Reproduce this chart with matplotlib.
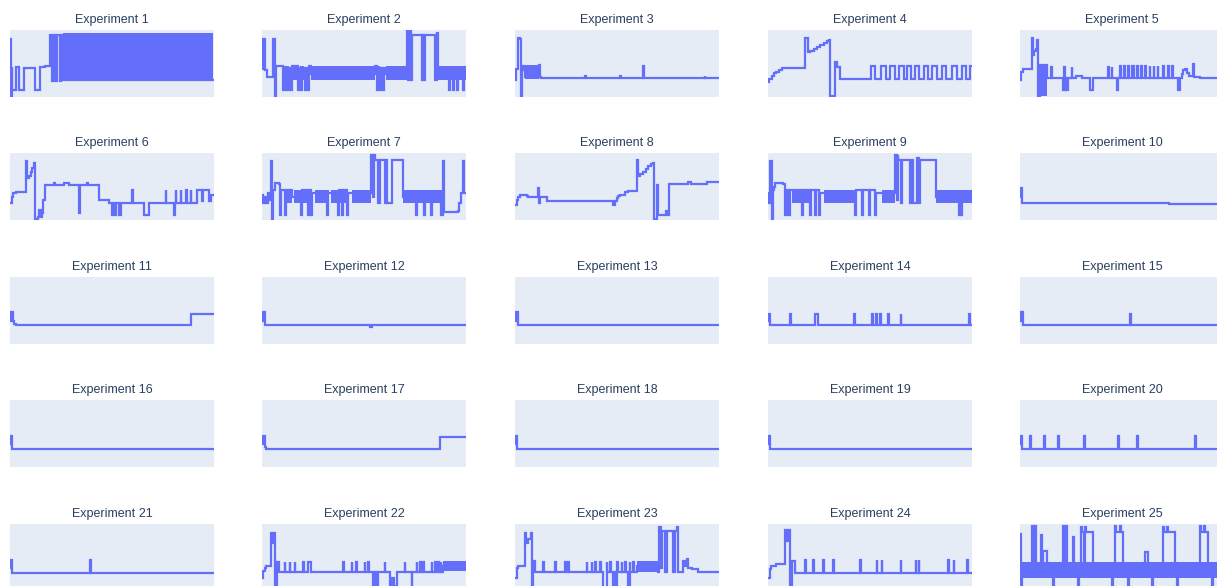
import matplotlib
matplotlib.use("Agg")
import matplotlib.pyplot as plt

# each experiment: (time %, value %) step points; bands = dense oscillation (t0, t1, low, high)
exp1 = [(0,87),(0.4,0),(0.9,45),(1.0,10),(2.8,45),(4.6,10),(6.9,44),(11.5,43),(12.3,10),(14.8,45),(17.2,47),
        (19.7,92),(20.5,24),(21.0,92),(22.3,24),(22.9,92),(24.3,24),(25.0,92),(26.0,26),(100,26)]
band1 = [(26.0,99.6,27,96)]

exp2 = [(0,42),(0.6,87),(1.5,40),(2.3,30),(5.2,87),(6.4,0),(7.0,47),(10.3,10),(10.8,44),(11.6,10),(12.1,44),
        (12.9,10),(13.4,44),(14.2,10),(14.7,46),(17.5,10),(18.0,44),(19.2,10),(19.7,44),(21.0,10),(21.5,44),
        (22.3,10),(22.8,46),(24.2,35),(55.3,46),(56.3,10),(56.8,44),(57.8,10),(58.3,44),(59.5,10),(60.0,44),
        (61.0,35),(70.9,98),(71.4,25),(72.4,98),(72.9,25),(73.3,92),(78.2,25),(78.7,92),(79.4,25),(79.9,92),
        (84.8,25),(86.0,95),(86.5,35),(91.5,10),(92.0,44),(93.5,10),(94.0,44),(95.8,10),(96.3,44),(98.3,10),
        (98.8,44),(100,44)]
band2 = [(11.0,13.0,25,47),(14.7,17.5,25,47),(18.5,20.5,25,47),(24.2,55.3,25,47),(56.8,58.0,25,47),
         (61.0,70.9,25,47),(86.5,100,25,47)]

exp3 = [(0,25),(0.3,42),(1.3,88),(2.6,86),(2.9,0),(3.4,47),(4.2,40),(4.9,30),(11.8,48),(12.4,30),(12.9,29),
        (34.3,31),(34.6,29),(51.5,31),(51.8,29),(62.9,46),(63.4,29),(93.0,31),(93.3,29),(100,29)]
band3 = [(4.9,11.8,27,48)]

exp4 = [(0,22),(0.7,27),(2.0,32),(2.8,36),(3.9,38),(5.2,40),(6.9,43),(18.3,88),(19.6,67),(20.8,69),(22.4,72),
        (24.0,74),(25.7,78),(27.3,81),(28.9,84),(30.1,85),(30.6,1.5),(32.7,52),(33.8,45),(35.5,27),(50.7,47),
        (52.6,27),(55.6,47),(57.8,27),(60.0,47),(62.1,27),(64.1,47),(66.5,27),(68.1,47),(70.3,27),(72.2,47),
        (74.2,27),(76.3,47),(78.4,27),(80.4,47),(82.8,27),(85.3,47),(87.4,27),(90.2,47),(92.6,27),(95.1,47),
        (97.2,27),(99.2,47),(100,47)]
band4 = []

exp5 = [(0,25),(0.5,38),(1.6,42),(5.7,88),(6.2,62),(6.9,68),(7.7,72),(8.5,85),(9.0,0),(9.8,48),(13.1,29),
        (15.3,45),(15.6,29),(21.2,10),(21.7,45),(22.0,10),(22.7,29),(23.2,10),(23.7,29),(25.3,45),(25.6,29),
        (27.5,32),(30.5,29),(34.3,10),(35.9,29),(43.3,45),(43.6,29),(44.9,45),(45.2,29),(47.4,10),(48.2,29),
        (49.0,47),(49.3,29),(51.0,47),(51.3,29),(53.0,47),(53.3,29),(55.0,47),(56.0,29),(57.5,47),(57.8,29),
        (59.5,47),(59.8,29),(61.5,47),(61.8,29),(63.5,47),(63.8,29),(65.5,47),(65.8,29),(67.5,47),(67.8,29),
        (70.3,47),(70.6,29),(72.5,47),(72.8,29),(74.5,47),(74.8,29),(77.6,10),(78.4,29),(79.2,35),(80.1,40),
        (81.0,42),(82.0,36),(83.0,32),(85.0,50),(85.3,30),(88.0,28),(100,28)]
band5 = [(9.8,13.1,2,50)]

exp6 = [(0,25),(0.8,35),(1.6,40),(2.8,42),(7.7,88),(8.5,63),(9.3,66),(10.1,72),(11.0,77),(11.9,85),(12.4,1),
        (13.9,5),(14.4,15),(15.0,5),(15.7,10),(16.3,30),(17.0,52),(21.6,55),(22.0,52),(26.5,55),(28.9,52),
        (33.8,10),(34.3,52),(37.9,55),(38.4,52),(43.6,30),(48.5,26),(50.2,8),(51.0,26),(51.4,8),(51.8,26),
        (53.4,8),(54.2,26),(60.0,45),(60.3,26),(65.7,8),(68.1,26),(76.3,45),(76.6,26),(80.4,8),(80.9,26),
        (81.2,45),(81.5,26),(83.7,45),(84.0,26),(86.3,45),(86.6,26),(88.6,45),(88.9,26),(91.8,45),(94.0,28),
        (94.5,45),(96.7,45),(97.5,28),(98.3,37),(100,37)]
band6 = []

exp7 = [(0,37),(0.6,25),(1.2,35),(2.0,25),(2.8,40),(3.6,30),(4.4,88),(5.0,0),(5.6,45),(6.2,55),(8.5,53),
        (9.0,8),(9.5,45),(11.5,8),(12.0,45),(14.5,35),(19.2,8),(19.7,45),(22.5,8),(23.0,45),(24.0,8),(24.5,40),
        (31.8,8),(32.3,40),(37.4,8),(37.9,45),(39.0,8),(39.5,45),(41.5,8),(42.0,40),(53.6,97),(54.2,35),
        (55.0,97),(55.6,90),(56.9,25),(57.7,90),(60.2,25),(60.6,90),(61.5,25),(63.8,90),(69.2,35),(75.4,8),
        (75.9,40),(79.5,8),(80.0,40),(83.0,8),(83.5,40),(87.9,8),(88.5,88),(89.3,12),(96.2,14),(96.8,25),
        (97.5,40),(98.5,88),(99.2,40),(100,40)]
band7 = [(12.0,14.5,25,45),(15.5,23.5,25,45),(26,33,25,45),(34,41,25,45),(44,53.5,25,45),(69.2,88,25,45)]

exp8 = [(0,22),(0.8,30),(1.6,35),(2.5,37),(5.7,36),(6.5,35),(11.1,48),(11.8,26),(12.3,35),(15.5,29),(16.3,28),
        (48.2,22),(49.0,28),(49.8,33),(50.5,36),(51.5,38),(53.9,42),(55.2,44),(59.6,90),(60.5,65),(61.5,68),
        (62.8,72),(64.0,76),(65.3,80),(66.5,83),(67.6,85),(68.0,1),(69.5,52),(70.3,7),(74.2,14),(74.8,7),
        (75.5,53),(85.0,56),(86.3,53),(94.0,56),(97.3,57),(100,57)]
band8 = []

exp9 = [(0,40),(0.5,25),(1.1,88),(1.8,0),(2.5,45),(3.0,50),(3.5,55),(7.5,53),(8.2,45),(8.5,8),(9.3,45),
        (10.5,8),(11.0,45),(16.5,8),(17.0,45),(20.5,8),(21.0,45),(23.0,8),(23.5,45),(24.8,8),(25.3,40),
        (42.8,8),(43.3,45),(46.1,8),(46.6,45),(49.3,8),(49.8,45),(52.6,8),(53.1,40),(62.4,97),(63.0,30),
        (63.5,97),(63.9,90),(65.0,25),(65.5,90),(69.8,25),(70.4,90),(71.2,25),(73.0,92),(74.0,25),(74.5,90),
        (82.0,90),(82.5,35),(93.5,8),(94.0,40),(94.5,8),(95.0,40),(100,40)]
band9 = [(12,16.5,25,45),(17,20.5,25,45),(27.5,42.8,25,45),(56,62.4,25,45),(82.5,100,25,45)]

exp10 = [(0,35),(0.4,48),(1.0,25),(73,24),(100,24)]
band10 = []
exp11 = [(0,35),(0.6,48),(1.5,35),(2.2,30),(3.0,28),(88.7,45),(100,45)]
band11 = []
exp12 = [(0,35),(0.6,48),(1.3,28),(53,26),(53.8,28),(100,28)]
band12 = []
exp13 = [(0,35),(0.6,48),(1.3,28),(100,28)]
band13 = []
exp14 = [(0,35),(0.6,45),(1.2,28),(10.8,45),(11.1,28),(23.2,45),(24.6,28),(42.4,45),(42.7,28),(51.2,45),
         (51.5,28),(53.0,45),(53.3,28),(55.0,45),(55.3,28),(59.0,45),(59.3,28),(65.0,45),(65.3,28),(98.5,45),
         (98.8,28),(100,28)]
band14 = []
exp15 = [(0,35),(0.6,48),(1.3,28),(53.9,45),(54.2,28),(100,28)]
band15 = []
exp16 = [(0,35),(0.6,46),(1.2,27),(100,27)]
band16 = []
exp17 = [(0,35),(0.6,46),(1.5,30),(2.2,27),(87.3,45),(100,45)]
band17 = []
exp18 = [(0,35),(0.6,46),(1.2,27),(100,27)]
band18 = []
exp19 = [(0,35),(0.6,46),(1.2,27),(100,27)]
band19 = []
exp20 = [(0,35),(0.5,46),(1.0,27),(4.9,46),(5.2,27),(11.8,46),(12.1,27),(18.6,46),(18.9,27),(31.4,46),
         (31.7,27),(48.0,46),(48.3,27),(57.4,46),(57.7,27),(85.8,46),(86.1,27),(100,27)]
band20 = []
exp21 = [(0,35),(0.6,46),(1.2,27),(39.4,46),(39.7,27),(100,27)]
band21 = []

exp22 = [(0,20),(0.5,30),(1.3,35),(2.0,37),(4.2,86),(4.8,72),(5.5,75),(6.1,86),(6.6,0),(7.5,43),(8.2,28),
         (11.1,43),(11.4,28),(13.6,43),(13.9,28),(16.0,43),(16.3,28),(20.1,43),(20.4,28),(22.6,43),(23.8,28),
         (39.8,43),(40.1,28),(43.9,43),(44.2,28),(46.3,43),(46.6,28),(50.4,43),(50.7,28),(52.0,43),(52.3,28),
         (54.5,0),(55.5,28),(56.0,0),(57.0,28),(60.2,43),(60.5,28),(62.7,8),(63.5,20),(64.5,8),(66.0,28),
         (70.0,43),(70.3,28),(73.3,0),(73.6,28),(75.8,43),(76.1,28),(77.4,43),(77.7,28),(79.0,43),(79.3,28),
         (83.1,43),(83.4,28),(84.8,43),(85.1,28),(86.4,43),(86.7,28),(87.6,43),(87.9,28),(88.9,38),(100,38)]
band22 = [(88.9,100,30,45)]

exp23 = [(0,20),(0.8,35),(1.6,38),(4.9,86),(5.6,72),(6.5,78),(7.7,86),(8.2,0),(9.0,45),(9.8,28),(13.9,43),
         (14.2,28),(19.6,43),(19.9,28),(24.5,43),(24.8,28),(26.1,43),(26.4,28),(35.1,43),(35.4,28),(37.6,43),
         (37.9,28),(39.2,43),(39.5,28),(41.7,43),(42.0,28),(43.3,0),(44.9,43),(45.2,28),(46.6,43),(46.9,28),
         (48.2,0),(49.0,28),(49.5,0),(50.2,43),(50.5,28),(52.3,43),(52.6,28),(53.9,43),(54.2,28),(55.6,0),
         (56.2,43),(56.5,28),(58.0,43),(58.3,28),(59.6,38),(70.3,28),(70.8,95),(71.4,35),(71.9,90),(73.5,28),
         (74.3,90),(77.6,28),(78.4,90),(79.2,95),(80.0,28),(82.5,45),(83.3,38),(84.2,48),(84.7,35),(86.6,33),
         (89.9,28),(100,28)]
band23 = [(59.6,70.3,28,45)]

exp24 = [(0,20),(0.8,33),(1.6,38),(4.0,40),(8.4,91),(9.2,75),(10.3,91),(10.8,0),(11.8,45),(13.0,27),
         (18.2,46),(18.5,27),(22.2,46),(22.5,27),(27.1,46),(27.4,27),(32.0,46),(32.3,27),(45.3,46),(45.6,27),
         (53.2,46),(53.5,27),(55.7,46),(56.0,27),(65.0,46),(65.3,27),(72.4,46),(72.7,27),(73.9,46),(74.2,27),
         (88.2,46),(88.5,27),(91.1,46),(91.4,27),(97.5,46),(97.8,27),(100,27)]
band24 = []

exp25 = [(0,85),(0.3,0),(0.8,35),(5.7,97),(7.7,35),(10.3,83),(10.9,35),(11.4,60),(13.1,35),(16.3,0),(16.8,35),
         (21.2,97),(22.9,35),(26.1,80),(26.6,35),(28.6,0),(29.1,35),(29.9,95),(30.4,88),(31.5,40),(31.9,95),
         (32.3,88),(35.9,35),(44.9,0),(45.4,35),(46.6,97),(47.1,88),(49.2,97),(49.7,88),(50.7,35),(53.1,0),
         (53.6,35),(61.3,58),(62.9,35),(64.5,0),(65.0,35),(70.3,95),(70.8,88),(72.2,95),(72.7,88),(76.0,35),
         (76.8,0),(77.3,35),(88.2,97),(88.7,88),(90.2,97),(90.7,88),(92.3,35),(94.0,0),(94.5,35),(100,35)]
band25 = [(0,100,20,44),(5.9,7.5,40,95),(21.4,22.7,40,95)]

series = [exp1, exp2, exp3, exp4, exp5, exp6, exp7, exp8, exp9, exp10, exp11, exp12, exp13,
          exp14, exp15, exp16, exp17, exp18, exp19, exp20, exp21, exp22, exp23, exp24, exp25]
bands = [band1, band2, band3, band4, band5, band6, band7, band8, band9, band10, band11, band12, band13,
         band14, band15, band16, band17, band18, band19, band20, band21, band22, band23, band24, band25]
titles = ["Experiment %d" % (i + 1) for i in range(25)]

W, H = 1217, 586
LINE = "#636EFA"
fig = plt.figure(figsize=(W / 100, H / 100), dpi=100)
fig.patch.set_facecolor("white")

lefts = [10, 262, 515, 768, 1020]
tops = [30, 153, 277, 400, 524]
pw, ph = 204, 67

for i in range(25):
    r, c = divmod(i, 5)
    ax = fig.add_axes([lefts[c] / W, 1 - (tops[r] + ph) / H, pw / W, ph / H])
    ax.set_facecolor("#E5ECF6")
    for s in ax.spines.values():
        s.set_visible(False)
    ax.set_xticks([])
    ax.set_yticks([])
    t = [p[0] for p in series[i]]
    v = [p[1] for p in series[i]]
    ax.plot(t, v, drawstyle="steps-post", color=LINE, lw=1.6, solid_joinstyle="miter")
    for t0, t1, lo, hi in bands[i]:
        ax.fill_between([t0, t1], [lo, lo], [hi, hi], color=LINE, lw=0)
    ax.set_xlim(0, 100)
    ax.set_ylim(0, 100)
    ax.text(0.5, 1 + 7 / ph, titles[i], transform=ax.transAxes, ha="center", va="baseline",
            fontsize=9, color="#2a3f5f", family="Liberation Sans")

fig.savefig("out.png", dpi=100)
